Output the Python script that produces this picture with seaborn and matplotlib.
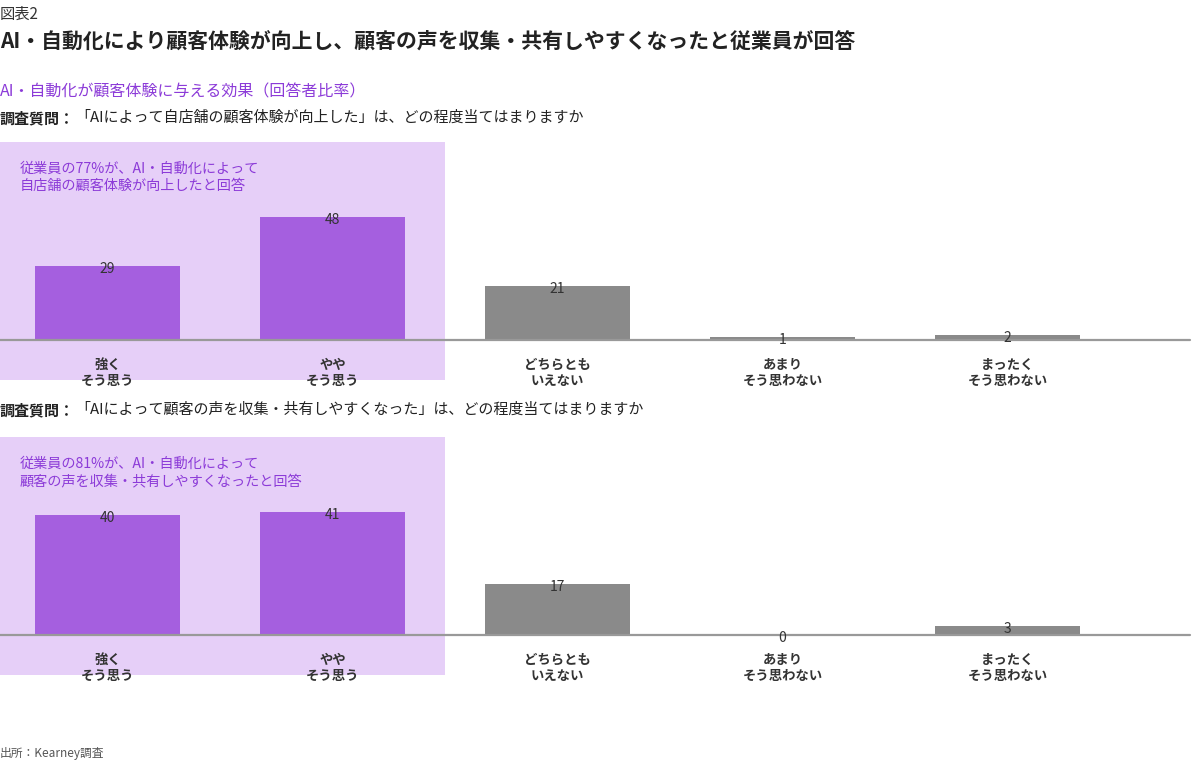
import matplotlib
matplotlib.use("Agg")
import matplotlib.pyplot as plt
import matplotlib.transforms as mtransforms
from matplotlib.patches import Rectangle
import pandas as pd
import seaborn as sns

# data (respondent share, %)
categories = ["強く\nそう思う", "やや\nそう思う", "どちらとも\nいえない", "あまり\nそう思わない", "まったく\nそう思わない"]
cx_values = [29, 48, 21, 1, 2]
voice_values = [40, 41, 17, 0, 3]

header = "図表2"
title = "AI・自動化により顧客体験が向上し、顧客の声を収集・共有しやすくなったと従業員が回答"
subtitle = "AI・自動化が顧客体験に与える効果（回答者比率）"
q_label = "調査質問："
q1 = "「AIによって自店舗の顧客体験が向上した」は、どの程度当てはまりますか"
q2 = "「AIによって顧客の声を収集・共有しやすくなった」は、どの程度当てはまりますか"
note1 = "従業員の77%が、AI・自動化によって\n自店舗の顧客体験が向上したと回答"
note2 = "従業員の81%が、AI・自動化によって\n顧客の声を収集・共有しやすくなったと回答"
source = "出所：Kearney調査"

PURPLE = "#a55fdf"
GREY = "#8a8a8a"
SHADE = "#e6cff8"
TEXT_PURPLE = "#8c3bd8"
bar_colors = [PURPLE, PURPLE, GREY, GREY, GREY]

sns.set_theme(style="white")
plt.rcParams["font.family"] = ["Noto Sans CJK JP", "DejaVu Sans"]

W, H = 1200, 770
fig = plt.figure(figsize=(12, 7.7), dpi=100)


def fy(px):
    return 1 - px / H


def draw_panel(values, base_px, top_px, ymax, note, note_px):
    ax = fig.add_axes([0, fy(base_px), 1190 / W, (base_px - top_px) / H])
    df = pd.DataFrame({"cat": categories, "val": values})
    sns.barplot(data=df, x="cat", y="val", hue="cat", palette=bar_colors,
                width=0.644, saturation=1, linewidth=0, legend=False, ax=ax, zorder=2)
    ax.set_xlim(-107.5 / 225, (1190 - 107.5) / 225)
    ax.set_ylim(0, ymax)
    for s in ax.spines.values():
        s.set_visible(False)
    ax.set_facecolor("none")
    ax.axhline(0, color="#999999", lw=1.6, zorder=3, clip_on=False)
    ax.set_yticks([])
    ax.set_xlabel("")
    ax.set_ylabel("")
    ax.set_xticks(range(len(categories)))
    ax.set_xticklabels(categories, fontsize=9.6, fontweight="bold", color="#333333",
                       linespacing=1.15)
    ax.tick_params(axis="x", length=0, pad=13)
    # shaded highlight for the two "agree" answers
    trans = mtransforms.blended_transform_factory(ax.transData, ax.transAxes)
    shade_bottom = -40 / (base_px - top_px)
    ax.add_patch(Rectangle((-0.6, shade_bottom), 2.1, 1 - shade_bottom, transform=trans,
                           facecolor=SHADE, edgecolor="none", clip_on=False, zorder=0))
    for i, v in enumerate(values):
        ax.annotate(str(v), (i, v), xytext=(0, -3), textcoords="offset pixels",
                    ha="center", va="center", fontsize=10, color="#333333", zorder=4)
    fig.text(20 / W, fy(note_px), note, fontsize=10.2, color=TEXT_PURPLE,
             va="top", ha="left", linespacing=1.3)
    return ax


def question(y_px, text):
    t = fig.text(0, fy(y_px), q_label, fontsize=10.8, fontweight="bold",
                 color="#222222", va="center", ha="left")
    fig.canvas.draw()
    bb = t.get_window_extent()
    fig.text(bb.x1 / W, fy(y_px), text, fontsize=10.8, color="#222222",
             va="center", ha="left")


fig.text(0, fy(14), header, fontsize=11, color="#333333", va="center", ha="left")
fig.text(0, fy(42), title, fontsize=15, fontweight="bold", color="#222222",
         va="center", ha="left")
fig.text(0, fy(92), subtitle, fontsize=11.5, color=TEXT_PURPLE, va="center", ha="left")

question(118, q1)
draw_panel(cx_values, 340, 142, 198 / 2.56, note1, 162)

question(410, q2)
draw_panel(voice_values, 635, 437, 198 / 3.0, note2, 457)

fig.text(0, fy(754), source, fontsize=8.5, color="#555555", va="center", ha="left")

fig.savefig("out.png", dpi=100)
